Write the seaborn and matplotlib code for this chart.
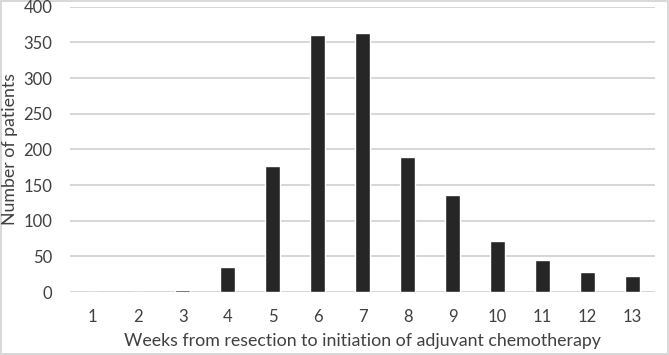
import matplotlib
matplotlib.use("Agg")
import matplotlib.pyplot as plt
import seaborn as sns
import pandas as pd

weeks = [1, 2, 3, 4, 5, 6, 7, 8, 9, 10, 11, 12, 13]
patients = [0, 0, 3, 35, 177, 360, 363, 190, 136, 72, 45, 28, 23]

sns.set_theme(style="white")
plt.rcParams['font.family'] = ['Lato', 'DejaVu Sans']

df = pd.DataFrame({"week": [str(w) for w in weeks], "n": patients})

fig = plt.figure(figsize=(6.69, 3.55), dpi=100)
fig.patch.set_edgecolor("#d9d9d9")
fig.patch.set_linewidth(1.5)
ax = fig.add_axes([0.105, 0.177, 0.874, 0.804])

sns.barplot(data=df, x="week", y="n", color="#262626", width=0.32,
            saturation=1, ax=ax, zorder=3)
ax.set_ylim(0, 400)
ax.set_yticks(range(0, 401, 50))
ax.yaxis.grid(True, color="#d0d0d0", linewidth=1.2, zorder=0)
ax.set_axisbelow(True)
for s in ax.spines.values():
    s.set_visible(False)
ax.tick_params(axis="x", length=0, labelsize=12, colors="#404040", pad=12)
ax.tick_params(axis="y", length=0, labelsize=12, colors="#404040", pad=13)
ax.set_xlabel("Weeks from resection to initiation of adjuvant chemotherapy",
              fontsize=12.8, color="#404040", labelpad=6)
ax.set_ylabel("Number of patients", fontsize=12.8, color="#404040")
ax.yaxis.set_label_coords(-0.089, 0.5)
ax.set_xlim(-0.5, 12.5)

fig.savefig("out.png", dpi=100, edgecolor=fig.get_edgecolor())
